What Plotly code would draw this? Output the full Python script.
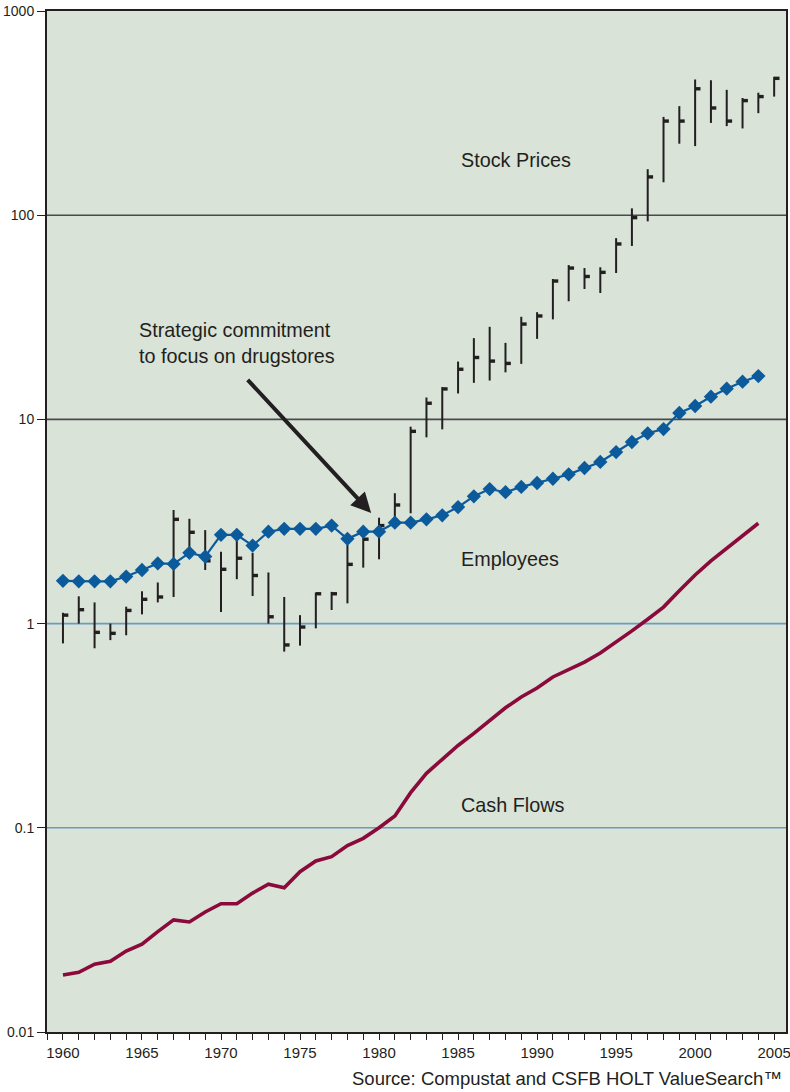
import plotly.graph_objects as go
import math

# ---------------- data ----------------
years = list(range(1960, 2006))

stock_high = [1.13, 1.36, 1.27, 1.00, 1.21, 1.44, 1.59, 3.60, 3.26, 2.87,
              2.25, 2.63, 2.22, 1.78, 1.35, 1.10, 1.42, 1.43, 2.43, 2.90,
              3.30, 4.35, 9.21, 12.8, 14.4, 19.2, 25.0, 28.4, 23.7, 31.8,
              33.5, 48.7, 57.0, 55.1, 55.6, 77.2, 108, 168, 303, 342,
              462, 458, 411, 375, 398, 476]
stock_low = [0.80, 1.00, 0.757, 0.83, 0.877, 1.11, 1.27, 1.35, 2.15, 1.83,
             1.14, 1.65, 1.365, 1.00, 0.729, 0.78, 0.948, 1.166, 1.257, 1.88,
             2.065, 3.10, 3.47, 8.17, 8.94, 13.4, 15.1, 15.5, 17.0, 18.7,
             24.8, 30.9, 37.9, 43.5, 41.6, 52.1, 70.7, 93.3, 145, 224,
             218, 283, 273, 266, 316, 381]
stock_close = [1.10, 1.17, 0.906, 0.896, 1.16, 1.315, 1.35, 3.24, 2.80, 2.03,
               1.845, 2.09, 1.72, 1.08, 0.786, 0.962, 1.40, 1.40, 1.95, 2.59,
               3.02, 3.81, 8.74, 12.0, 14.1, 17.6, 20.1, 19.3, 18.8, 29.3,
               32.1, 47.6, 55.1, 50.1, 52.5, 72.3, 97.3, 154, 289, 289,
               416, 335, 289, 364, 381, 468]

emp_years = list(range(1960, 2005))
employees = [1.62, 1.61, 1.61, 1.61, 1.70, 1.83, 1.97, 1.96, 2.22, 2.13,
             2.72, 2.72, 2.41, 2.82, 2.91, 2.91, 2.91, 3.02, 2.60, 2.82,
             2.82, 3.12, 3.12, 3.24, 3.39, 3.72, 4.20, 4.56, 4.40, 4.67,
             4.88, 5.12, 5.38, 5.78, 6.19, 6.92, 7.75, 8.55, 8.97, 10.75,
             11.63, 12.92, 14.14, 15.30, 16.3]

cf_years = list(range(1960, 2005))
cash_flows = [0.0190, 0.0196, 0.0215, 0.0222, 0.0249, 0.0269, 0.0310, 0.0354, 0.0346, 0.0387,
              0.0425, 0.0425, 0.0479, 0.0529, 0.0509, 0.0610, 0.0688, 0.0722, 0.0818, 0.0888,
              0.1001, 0.1143, 0.1486, 0.1849, 0.2165, 0.253, 0.290, 0.337, 0.387, 0.437,
              0.484, 0.548, 0.593, 0.648, 0.718, 0.809, 0.921, 1.051, 1.205, 1.449,
              1.730, 2.030, 2.337, 2.692, 3.10]

y_tick_vals = [0.01, 0.1, 1, 10, 100, 1000]
y_tick_text = ["0.01", "0.1", "1", "10", "100", "1000"]
x_tick_vals = list(range(1960, 2006, 5))

XRANGE = [1958.99, 2005.75]
CLOSE_TICK = 0.34  # horizontal length of close tick (years)

FONT = "Liberation Sans, Arial, Helvetica, sans-serif"
NARROW = "Liberation Sans Narrow, Arial Narrow, Liberation Sans, sans-serif"
BG = "#d9e3d8"
DARK = "#231f20"
GRID_DARK = "#4a4a4a"
GRID_BLUE = "#6a9ac0"
BLUE = "#0b5a9c"
MAROON = "#8a0a3c"
LABEL_SIZE = 19.8
TICK_SIZE = 14

fig = go.Figure()

# gridlines
for v, c in [(100, GRID_DARK), (10, GRID_DARK), (1, GRID_BLUE), (0.1, GRID_BLUE)]:
    fig.add_trace(go.Scatter(x=XRANGE, y=[v, v], mode="lines",
                             line=dict(color=c, width=1.6), hoverinfo="skip",
                             showlegend=False))

# stock high-low bars
hx, hy = [], []
for yr, hi, lo in zip(years, stock_high, stock_low):
    hx += [yr, yr, None]
    hy += [lo, hi, None]
fig.add_trace(go.Scatter(x=hx, y=hy, mode="lines",
                         line=dict(color=DARK, width=2), showlegend=False))
cx, cy = [], []
for yr, c in zip(years, stock_close):
    cx += [yr, yr + CLOSE_TICK, None]
    cy += [c, c, None]
fig.add_trace(go.Scatter(x=cx, y=cy, mode="lines",
                         line=dict(color=DARK, width=3.4), showlegend=False))

# cash flows
fig.add_trace(go.Scatter(x=cf_years, y=cash_flows, mode="lines",
                         line=dict(color=MAROON, width=3.6), showlegend=False))

# employees
fig.add_trace(go.Scatter(x=emp_years, y=employees, mode="lines+markers",
                         line=dict(color=BLUE, width=2.2),
                         marker=dict(symbol="diamond", size=11, color=BLUE),
                         showlegend=False))

annotations = [
    dict(x=1985.05, y=math.log10(186), xref="x", yref="y", text="Stock Prices",
         showarrow=False, xanchor="left", yanchor="middle",
         font=dict(size=LABEL_SIZE, color=DARK, family=FONT)),
    dict(x=1985.05, y=math.log10(2.07), xref="x", yref="y", text="Employees",
         showarrow=False, xanchor="left", yanchor="middle",
         font=dict(size=LABEL_SIZE, color=DARK, family=FONT)),
    dict(x=1985.05, y=math.log10(0.129), xref="x", yref="y", text="Cash Flows",
         showarrow=False, xanchor="left", yanchor="middle",
         font=dict(size=LABEL_SIZE, color=DARK, family=FONT)),
    dict(x=1964.67, y=math.log10(23.6), xref="x", yref="y",
         text="Strategic commitment<br>to focus on drugstores",
         showarrow=False, xanchor="left", yanchor="middle", align="left",
         font=dict(size=LABEL_SIZE, color=DARK, family=FONT)),
    dict(x=1979.5, y=math.log10(3.48), xref="x", yref="y",
         ax=1971.6, ay=math.log10(15.9), axref="x", ayref="y",
         text="", showarrow=True, arrowhead=2, arrowsize=1, arrowwidth=4,
         arrowcolor=DARK, standoff=0, startstandoff=0),
    dict(x=1, y=0, xref="paper", yref="paper", yshift=-34, xshift=-2,
         text="Source: Compustat and CSFB HOLT ValueSearch™",
         showarrow=False, xanchor="right", yanchor="top",
         font=dict(size=18.5, color=DARK, family=FONT)),
]

fig.update_layout(
    width=790, height=1092,
    margin=dict(l=47, r=4, t=11, b=60, autoexpand=False),
    paper_bgcolor="white", plot_bgcolor=BG,
    showlegend=False,
    font=dict(family=FONT, color=DARK),
    annotations=annotations,
    xaxis=dict(range=XRANGE, tickmode="array", tickvals=x_tick_vals,
               automargin=False, ticklabeloverflow="allow",
               ticks="outside", ticklen=6, tickwidth=1.2, tickcolor=DARK,
               showgrid=False, zeroline=False, showline=True, mirror=True,
               linecolor=DARK, linewidth=2,
               tickfont=dict(size=15, color=DARK, family=NARROW),
               minor=dict(dtick=1, tick0=1960, ticks="outside", ticklen=6,
                          tickwidth=1.2, tickcolor=DARK, showgrid=False)),
    yaxis=dict(type="log", range=[-2, 3], tickmode="array",
               tickvals=y_tick_vals, ticktext=y_tick_text,
               automargin=False, ticklabeloverflow="allow",
               ticks="outside", ticklen=8, tickwidth=1.2, tickcolor=DARK,
               showgrid=False, zeroline=False, showline=True, mirror=True,
               linecolor=DARK, linewidth=2,
               tickfont=dict(size=TICK_SIZE, color=DARK, family=FONT)),
)

fig.write_html("out.html")
